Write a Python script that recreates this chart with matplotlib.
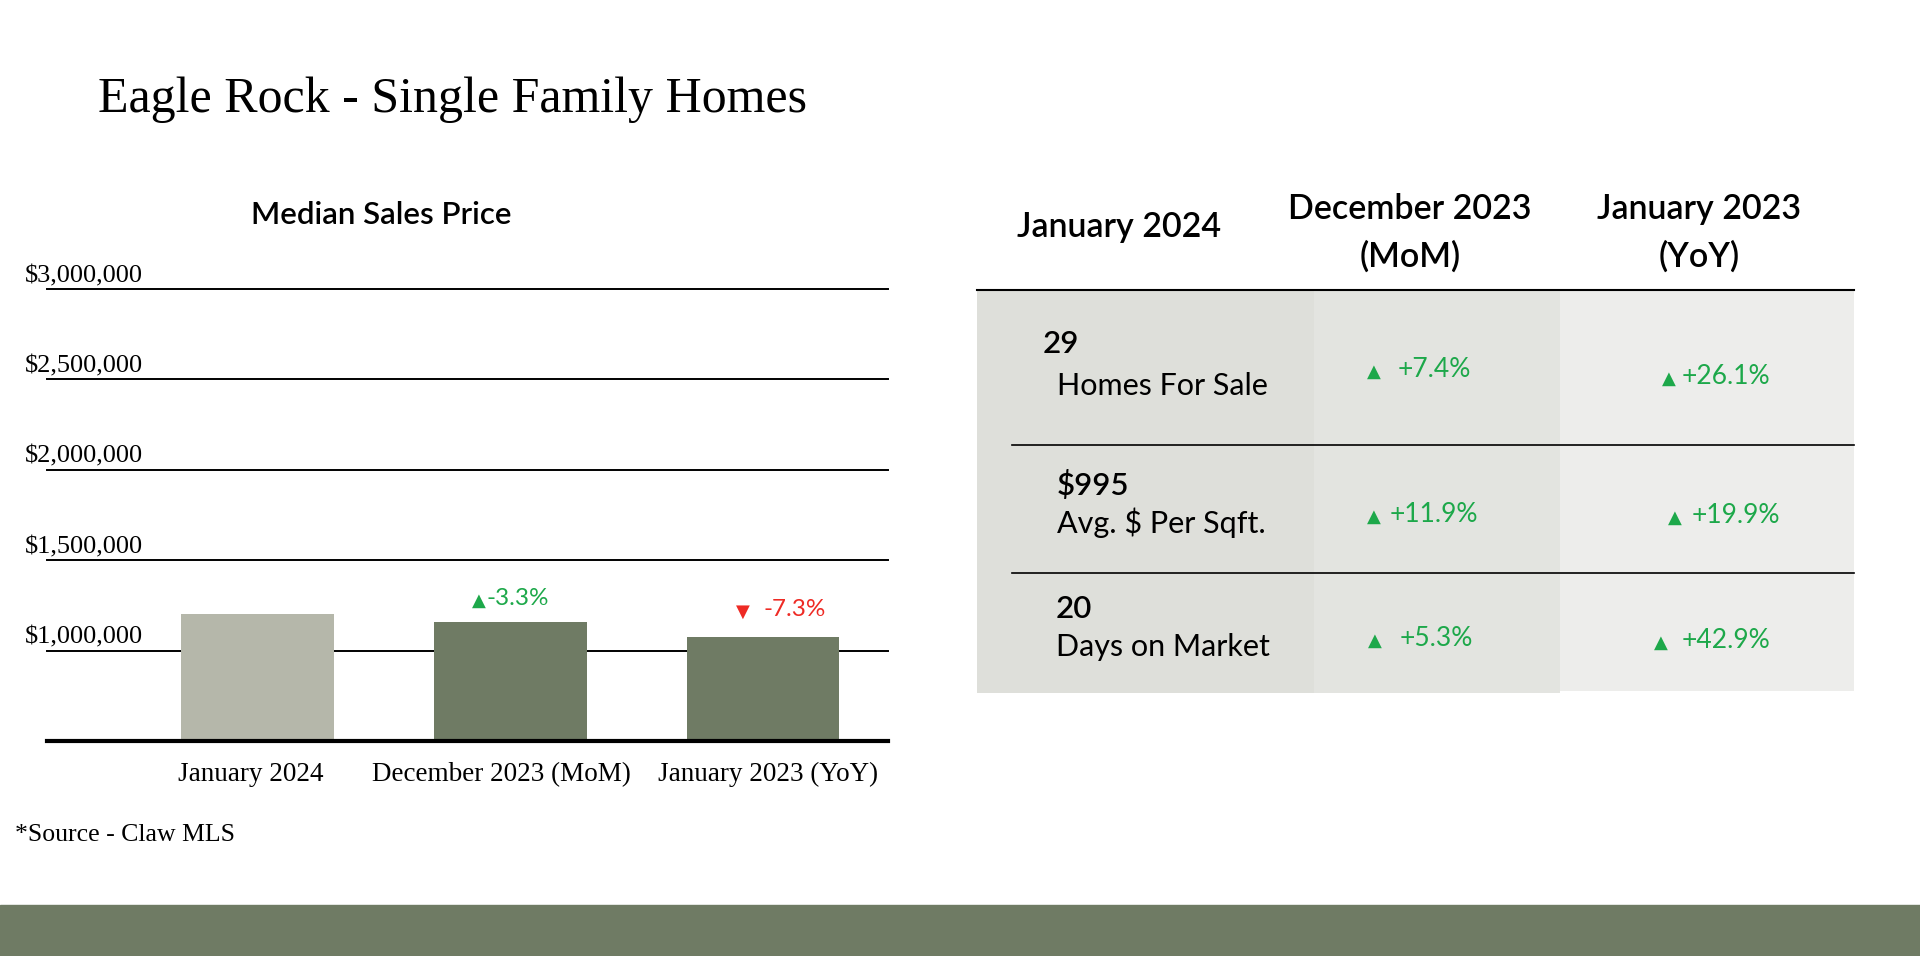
import matplotlib
matplotlib.use('Agg')
import matplotlib.pyplot as plt
from matplotlib.patches import Rectangle
from matplotlib.transforms import ScaledTranslation

# chart data
categories = ['January 2024', 'December 2023 (MoM)', 'January 2023 (YoY)']
median_price = [1204000, 1158000, 1077000]
price_change = ['', '-3.3%', '-7.3%']
change_up = [None, True, False]
price_ticks = [1000000, 1500000, 2000000, 2500000, 3000000]

# table data
col_headers = ['January 2024', 'December 2023\n(MoM)', 'January 2023\n(YoY)']
metric_value = ['29', '$995', '20']
metric_name = ['Homes For Sale', 'Avg. $ Per Sqft.', 'Days on Market']
mom_change = ['+7.4%', '+11.9%', '+5.3%']
yoy_change = ['+26.1%', '+19.9%', '+42.9%']

W, H = 1920, 956
SERIF = 'Liberation Serif'
SANS = ['Lato', 'DejaVu Sans']
GREEN = '#1DA84A'
RED = '#EE2A24'
OLIVE = '#6F7B64'
PALE = '#B5B7AA'

fig = plt.figure(figsize=(W / 100, H / 100), dpi=100)
bg = fig.add_axes([0, 0, 1, 1])
bg.set_xlim(0, W)
bg.set_ylim(H, 0)
bg.axis('off')

bg.text(98, 112, 'Eagle Rock - Single Family Homes', family=SERIF, fontsize=36, va='baseline')
bg.text(381, 224, 'Median Sales Price', family=SANS, fontsize=22.5, ha='center', va='baseline', weight='semibold')
bg.text(15, 841, '*Source - Claw MLS', family=SERIF, fontsize=18.5, va='baseline')
bg.add_patch(Rectangle((0, 905), W, H - 905, color=OLIVE))

# ---- bar chart ----
left, right, bottom, top = 46.5, 888, 741, 289
ax = fig.add_axes([left / W, 1 - bottom / H, (right - left) / W, (bottom - top) / H])
ax.bar(range(3), median_price, width=0.605, color=[PALE, OLIVE, OLIVE], zorder=3)
ax.set_xlim(-0.837, 2.495)
ax.set_ylim(500000, 3000000)
for t in price_ticks:
    ax.axhline(t, color='black', lw=1.4, zorder=2, clip_on=False)
    ax.annotate('${:,}'.format(t), xy=(0, t), xycoords=ax.get_yaxis_transform(),
                xytext=(-15.8, 5), textcoords='offset points', ha='left', va='baseline',
                family=SERIF, fontsize=19)
for s in ['top', 'left', 'right']:
    ax.spines[s].set_visible(False)
ax.spines['bottom'].set_linewidth(3)
ax.spines['bottom'].set_zorder(4)
ax.set_yticks([])
ax.set_xticks(range(3), categories, family=SERIF, fontsize=19.5)
ax.tick_params(axis='x', length=0, pad=15)
# small horizontal nudges of the category labels (pixels)
for lab, dx in zip(ax.get_xticklabels(), [-7, -9, 5]):
    lab.set_transform(lab.get_transform() + ScaledTranslation(dx / 100, 0, fig.dpi_scale_trans))
ax.patch.set_alpha(0)

# offsets in points: (triangle dx, triangle dy, text dx, text dy)
ann_off = [None, (-22.8, 11.7, -17, 12.5), (-14.6, 14.0, 0.7, 14.7)]
for i in range(3):
    if not price_change[i]:
        continue
    col = GREEN if change_up[i] else RED
    tri = '\u25b2' if change_up[i] else '\u25bc'
    tdx, tdy, xdx, xdy = ann_off[i]
    ax.annotate(tri, xy=(i, median_price[i]), xytext=(tdx, tdy), textcoords='offset points',
                ha='center', va='baseline', color=col, fontsize=13, family='DejaVu Sans')
    ax.annotate(price_change[i], xy=(i, median_price[i]), xytext=(xdx, xdy), textcoords='offset points',
                ha='left', va='baseline', color=col, fontsize=17.5, family=SANS)

# ---- table ----
bg.add_patch(Rectangle((977, 290), 337, 403, color='#DEDFDA', lw=0))
bg.add_patch(Rectangle((1314, 290), 246, 403, color='#E3E4E0', lw=0))
bg.add_patch(Rectangle((1560, 290), 294, 401, color='#EDEDEB', lw=0))
bg.plot([977, 1854], [290, 290], color='black', lw=1.5)
for y in [445, 572.5]:
    bg.plot([1012, 1854], [y, y], color='black', lw=1.2)

head_x = [1118.6, 1410, 1699]
for i, h in enumerate(col_headers):
    lines = h.split('\n')
    ys = [237.3] if len(lines) == 1 else [219, 266.7]
    for line, y in zip(lines, ys):
        bg.text(head_x[i], y, line, family=SANS, fontsize=24.5, weight='semibold', ha='center', va='baseline')

val_x = [1043, 1057, 1055.5]
val_y = [353, 495, 618]
name_x = [1057, 1057, 1055.5]
name_y = [395, 533, 656]
mom_tri = [1374, 1374, 1375]
mom_txt = [1398, 1390, 1400]
mom_y = [377, 521.5, 645.5]
yoy_tri = [1668.5, 1675, 1660.5]
yoy_txt = [1682, 1692, 1682]
yoy_y = [384, 522.7, 648]
for r in range(3):
    bg.text(val_x[r], val_y[r], metric_value[r], family=SANS, fontsize=22.5, weight='semibold', va='baseline')
    bg.text(name_x[r], name_y[r], metric_name[r], family=SANS, fontsize=22, va='baseline')
    bg.text(mom_tri[r], mom_y[r], '\u25b2', family='DejaVu Sans', fontsize=13, color=GREEN, ha='center', va='baseline')
    bg.text(mom_txt[r], mom_y[r], mom_change[r], family=SANS, fontsize=19, color=GREEN, va='baseline')
    bg.text(yoy_tri[r], yoy_y[r], '\u25b2', family='DejaVu Sans', fontsize=13, color=GREEN, ha='center', va='baseline')
    bg.text(yoy_txt[r], yoy_y[r], yoy_change[r], family=SANS, fontsize=19, color=GREEN, va='baseline')

fig.savefig('out.png', dpi=100)
